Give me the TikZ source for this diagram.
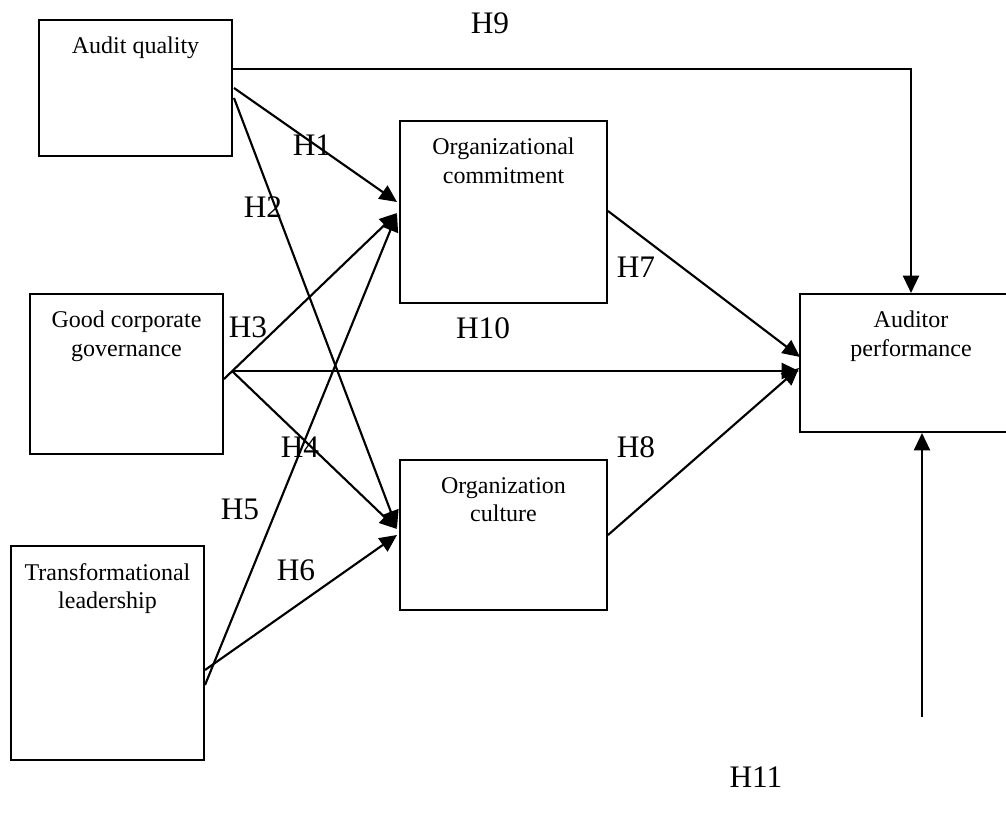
\documentclass[tikz,border=0pt]{standalone}
\usepackage{fontspec}
\setmainfont{Liberation Serif}
\usetikzlibrary{arrows.meta,calc}

\newcommand{\px}{0.75pt}
\tikzset{
  varbox/.style={draw, line width=1.5pt, rectangle, anchor=north west, inner sep=0pt},
  boxtext/.style={anchor=north, inner sep=0pt, align=center, yshift=-13.5pt,
    font=\fontsize{18}{21.5}\selectfont},
  hyp/.style={inner sep=0pt, font=\fontsize{23.5}{27}\selectfont},
  link/.style={line width=1.6pt, -{Triangle[length=13pt,width=12pt]}}
}

\begin{document}
\begin{tikzpicture}[x=\px, y=-\px]
    \useasboundingbox (0,0) rectangle (1006,834);

    %Variables
    \node[varbox, minimum width=193*\px, minimum height=136*\px,
      label={[boxtext]north:Audit quality}] (aq) at (38,19) {};
    \node[varbox, minimum width=193*\px, minimum height=160*\px,
      label={[boxtext]north:{Good corporate\\governance}}] (gcg) at (29,293) {};
    \node[varbox, minimum width=193*\px, minimum height=214*\px,
      label={[boxtext]north:{Transformational\\leadership}}] (tl) at (10,545) {};
    \node[varbox, minimum width=207*\px, minimum height=182*\px,
      label={[boxtext]north:{Organizational\\commitment}}] (oc) at (399,120) {};
    \node[varbox, minimum width=207*\px, minimum height=150*\px,
      label={[boxtext]north:{Organization\\culture}}] (ocu) at (399,459) {};
    \node[varbox, minimum width=222*\px, minimum height=138*\px,
      label={[boxtext]north:{Auditor\\performance}}] (ap) at (799,293) {};

    %Hypotheses
    \draw[link] ($(aq.north east)+(0,50)$) -| (ap.north);
    \draw[link] ($(aq.north east)+(1,69)$) -- ($(oc.north west)+(-2,82)$);
    \draw[link] ($(aq.north east)+(1,79)$) -- ($(ocu.north west)+(-2,69)$);
    \draw[link] ($(gcg.north east)+(0,86)$) -- ($(oc.north west)+(-2,93)$);
    \draw[link] ($(gcg.north east)+(8,78)$) -- ($(ocu.north west)+(-2,70)$);
    \draw[link] ($(gcg.north east)+(8,78)$) -- ($(ap.north west)+(0,78)$);
    \draw[link] ($(tl.north east)+(0,140)$) -- ($(oc.north west)+(-2,94)$);
    \draw[link] ($(tl.north east)+(0,125)$) -- ($(ocu.north west)+(-2,76)$);
    \draw[link] ($(oc.north east)+(0,91)$) -- ($(ap.north west)+(1,64)$);
    \draw[link] ($(ocu.north east)+(0,76)$) -- ($(ap.north west)+(0,75)$);
    \coordinate (mod) at (922,717);
    \draw[link] (mod) -- (mod |- ap.south);

    \node[hyp] (h1) at (312,145) {H1};
    \node[hyp] (h2) at (263,207) {H2};
    \node[hyp] (h3) at (248,327) {H3};
    \node[hyp] (h4) at (300,447) {H4};
    \node[hyp] (h5) at (240,509) {H5};
    \node[hyp] (h6) at (296,570) {H6};
    \node[hyp] (h7) at (636,267) {H7};
    \node[hyp] (h8) at (636,447) {H8};
    \node[hyp] (h9) at (490,23) {H9};
    \node[hyp] (h10) at (483,328) {H10};
    \node[hyp] (h11) at (756,777) {H11};
\end{tikzpicture}
\end{document}
